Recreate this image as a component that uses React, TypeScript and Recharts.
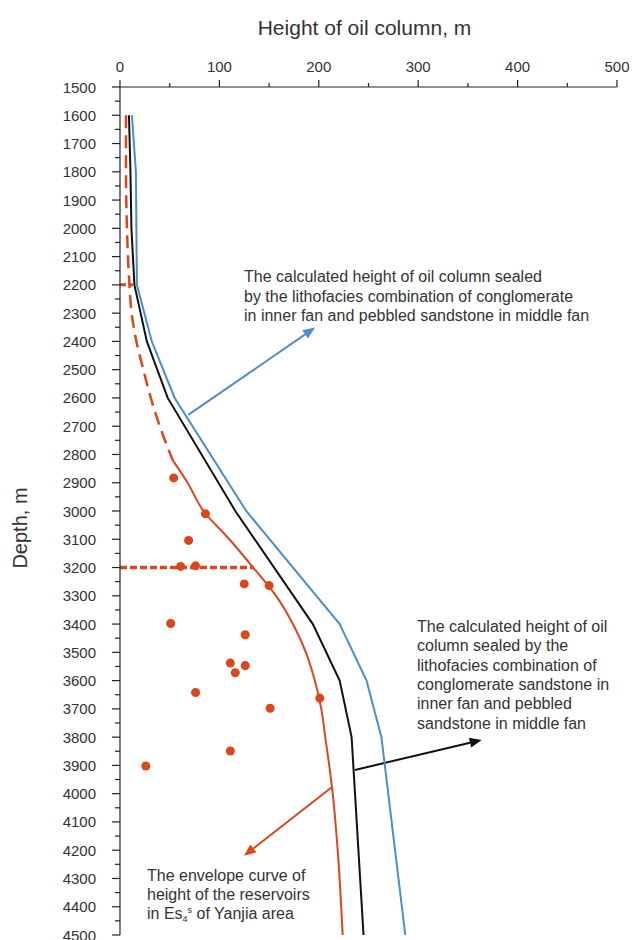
import { ScatterChart, Scatter, XAxis, YAxis, ReferenceLine } from "recharts";

// depth (m) vs. height of oil column (m)
const heightTicks = [0, 50, 100, 150, 200, 250, 300, 350, 400, 450, 500];
const depthTicks = Array.from({ length: 61 }, (_, i) => 1500 + i * 50);

const blueDepth = [1600, 1800, 2200, 2400, 2600, 3000, 3400, 3600, 3800, 4500];
const blueHeight = [12, 16, 17, 32, 55, 127, 221, 248, 263, 287];

const blackDepth = [1600, 1800, 2000, 2200, 2400, 2600, 3000, 3400, 3600, 3800, 4500];
const blackHeight = [9, 10.5, 11.5, 14.5, 27, 48, 116, 194, 221, 233, 245];

const dashedDepth = [1600, 1700, 1800, 1900, 2000, 2100, 2200, 2300, 2400, 2500, 2600, 2700, 2820];
const dashedHeight = [6, 6, 6, 6.3, 7, 8, 9.5, 11.7, 16.5, 23.5, 31, 40, 53];

const envelopeDepth = [2820, 2900, 3000, 3100, 3200, 3300, 3400, 3500, 3600, 3700, 3800, 3900, 4000, 4200, 4500];
const envelopeHeight = [53, 68, 84, 110, 134, 157, 174, 187, 196, 202.5, 206.5, 210.5, 214, 219, 224];

const wellDepth = [2883, 3010, 3104, 3196, 3194, 3258, 3264, 3398, 3438, 3538, 3547, 3572, 3642, 3698, 3662, 3849, 3902];
const wellHeight = [54, 86, 69, 61, 76, 125, 150, 51, 126, 111, 126, 116, 76, 151, 201, 111, 26];

const BLUE = "#4a8ecd";
const BLACK = "#111111";
const RED = "#db461b";
const TEXT = "#333333";
const FONT = '"Liberation Sans", Arial, sans-serif';

const PLOT_TOP = 87;
const PLOT_LEFT = 120;

const zip = (d: number[], h: number[]) => d.map((v, i) => ({ d: v, h: h[i] }));

const XTick = (props: any) => {
  const { x, payload } = props;
  const major = payload.value % 100 === 0;
  const len = major ? 7 : 4;
  return (
    <g>
      <line x1={x} x2={x} y1={PLOT_TOP} y2={PLOT_TOP - len} stroke="#222" strokeWidth={1.2} />
      {major && (
        <text x={x} y={72} textAnchor="middle" fontSize={15} fill={TEXT} fontFamily={FONT}>
          {payload.value}
        </text>
      )}
    </g>
  );
};

const YTick = (props: any) => {
  const { y, payload } = props;
  const major = payload.value % 100 === 0;
  const len = major ? 8 : 5;
  return (
    <g>
      <line x1={PLOT_LEFT} x2={PLOT_LEFT - len} y1={y} y2={y} stroke="#222" strokeWidth={1.2} />
      {major && (
        <text x={96} y={y + 5.5} textAnchor="end" fontSize={15} fill={TEXT} fontFamily={FONT}>
          {payload.value}
        </text>
      )}
    </g>
  );
};

const arrow = (color: string) => (props: any) => {
  const { x1, y1, x2, y2 } = props;
  const a = Math.atan2(y2 - y1, x2 - x1);
  const L = 12;
  const W = 5;
  const bx = x2 - L * Math.cos(a);
  const by = y2 - L * Math.sin(a);
  const px = -Math.sin(a) * W;
  const py = Math.cos(a) * W;
  return (
    <g>
      <line x1={x1} y1={y1} x2={bx} y2={by} stroke={color} strokeWidth={2} />
      <polygon points={`${x2},${y2} ${bx + px},${by + py} ${bx - px},${by - py}`} fill={color} />
    </g>
  );
};

const noDot = () => <g />;

export default function App() {
  return (
    <div style={{ position: "absolute", left: 0, top: 0, width: 632, height: 940, background: "#fff" }}>
      <ScatterChart width={632} height={940} margin={{ top: 57, right: 15, bottom: 5, left: 60 }}>
        <XAxis
          type="number"
          dataKey="h"
          orientation="top"
          domain={[0, 500]}
          ticks={heightTicks}
          interval={0}
          tick={<XTick />}
          tickLine={false}
          axisLine={{ stroke: "#222", strokeWidth: 1.2 }}
          height={30}
        />
        <YAxis
          type="number"
          dataKey="d"
          domain={[1500, 4500]}
          reversed
          ticks={depthTicks}
          interval={0}
          tick={<YTick />}
          tickLine={false}
          axisLine={{ stroke: "#222", strokeWidth: 1.2 }}
          width={60}
        />
        <ReferenceLine segment={[{ x: 0, y: 2200 }, { x: 13, y: 2200 }]} stroke={RED} strokeWidth={3} strokeDasharray="6 3" />
        <ReferenceLine segment={[{ x: 0, y: 3200 }, { x: 134, y: 3200 }]} stroke={RED} strokeWidth={3.5} strokeDasharray="7 3" />
        <Scatter
          data={zip(dashedDepth, dashedHeight)}
          line={{ stroke: RED, strokeWidth: 2.5, strokeDasharray: "13 7" }}
          lineJointType="monotoneY"
          shape={noDot}
          isAnimationActive={false}
        />
        <Scatter
          data={zip(envelopeDepth, envelopeHeight)}
          line={{ stroke: RED, strokeWidth: 2 }}
          lineJointType="monotoneY"
          shape={noDot}
          isAnimationActive={false}
        />
        <Scatter
          data={zip(blueDepth, blueHeight)}
          line={{ stroke: BLUE, strokeWidth: 2 }}
          shape={noDot}
          isAnimationActive={false}
        />
        <Scatter
          data={zip(blackDepth, blackHeight)}
          line={{ stroke: BLACK, strokeWidth: 2 }}
          shape={noDot}
          isAnimationActive={false}
        />
        <Scatter data={zip(wellDepth, wellHeight)} fill={RED} shape="circle" isAnimationActive={false} />
        <ReferenceLine segment={[{ x: 68.7, y: 2660 }, { x: 196.2, y: 2351 }]} shape={arrow(BLUE)} />
        <ReferenceLine segment={[{ x: 236.4, y: 3916 }, { x: 363.9, y: 3810 }]} shape={arrow(BLACK)} />
        <ReferenceLine segment={[{ x: 213, y: 3977 }, { x: 124.7, y: 4220 }]} shape={arrow(RED)} />
      </ScatterChart>
      <svg
        width={632}
        height={940}
        style={{ position: "absolute", left: 0, top: 0, pointerEvents: "none" }}
        fontFamily={FONT}
        fill={TEXT}
      >
        <text x={364.5} y={35} textAnchor="middle" fontSize={21}>
          Height of oil column, m
        </text>
        <text x={27} y={528} textAnchor="middle" fontSize={20} transform="rotate(-90 27 528)">
          Depth, m
        </text>
        <g fontSize={16}>
          <text x={244} y={282}>The calculated height of oil column sealed</text>
          <text x={244} y={301.5}>by the lithofacies combination of conglomerate</text>
          <text x={244} y={321}>in inner fan and pebbled sandstone in middle fan</text>

          <text x={417} y={632}>The calculated height of oil</text>
          <text x={417} y={651}>column sealed by the</text>
          <text x={417} y={670.5}>lithofacies combination of</text>
          <text x={417} y={690}>conglomerate sandstone in</text>
          <text x={417} y={709}>inner fan and pebbled</text>
          <text x={417} y={728.5}>sandstone in middle fan</text>

          <text x={147} y={881}>The envelope curve of</text>
          <text x={147} y={900}>height of the reservoirs</text>
          <text x={147} y={919}>
            in Es
            <tspan fontSize={9} dy={3}>4</tspan>
            <tspan fontSize={9} dy={-9}>s</tspan>
            <tspan dy={6}> of Yanjia area</tspan>
          </text>
        </g>
      </svg>
    </div>
  );
}
